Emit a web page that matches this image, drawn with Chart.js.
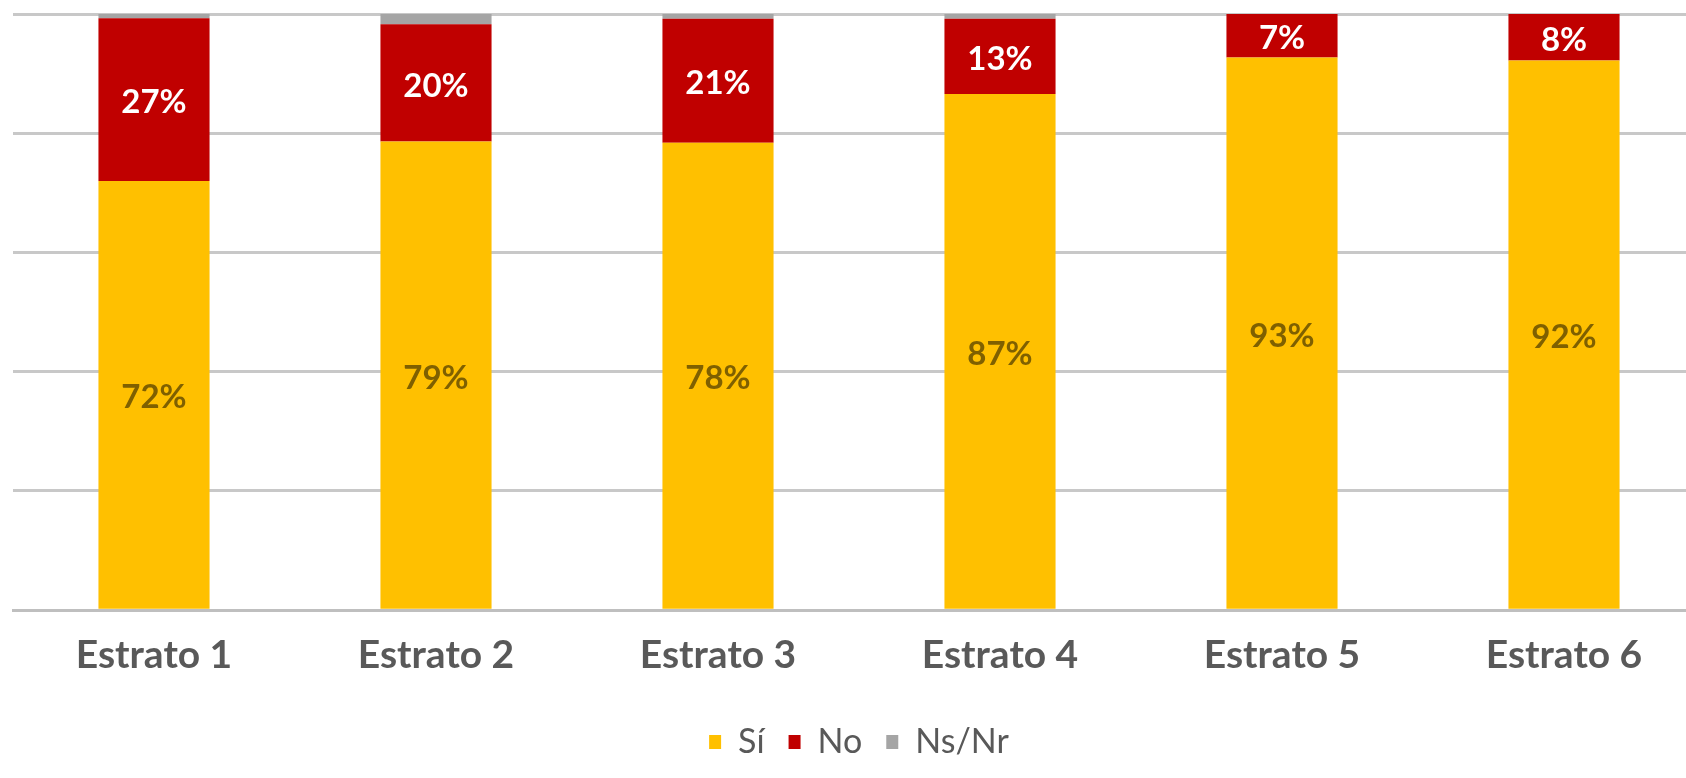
<!DOCTYPE html>
<html>
<head>
<meta charset="utf-8">
<script src="https://cdn.jsdelivr.net/npm/chart.js@4.4.1/dist/chart.umd.min.js"></script>
<style>
html,body{margin:0;padding:0;background:#fff;overflow:hidden;}
#wrap{position:absolute;left:0;top:0;width:1750px;height:778px;}
</style>
</head>
<body>
<div id="wrap"><canvas id="c" width="1750" height="778"></canvas></div>
<script>
const categories = ['Estrato 1', 'Estrato 2', 'Estrato 3', 'Estrato 4', 'Estrato 5', 'Estrato 6'];
const seriesNames = ['Sí', 'No', 'Ns/Nr'];
const si   = [72.0, 78.6, 78.4, 86.6, 92.7, 92.2];
const no   = [27.3, 19.7, 20.8, 12.6, 7.3, 7.8];
const nsnr = [0.7, 1.7, 0.8, 0.8, 0.0, 0.0];
const yTicks = [0, 20, 40, 60, 80, 100];

const labelPlugin = {
  id: 'segLabels',
  afterDatasetsDraw(chart) {
    const ctx = chart.ctx;
    const colors = ['#7F6000', '#FFFFFF'];
    [0, 1].forEach(di => {
      const meta = chart.getDatasetMeta(di);
      const data = chart.data.datasets[di].data;
      meta.data.forEach((el, i) => {
        const v = data[i];
        if (!v) return;
        const y = (el.y + el.base) / 2 + 3;
        ctx.save();
        ctx.font = 'bold 33px Lato';
        ctx.fillStyle = colors[di];
        ctx.textAlign = 'center';
        ctx.textBaseline = 'middle';
        ctx.fillText(Math.round(v) + '%', el.x, y);
        ctx.restore();
      });
    });
  }
};

new Chart(document.getElementById('c'), {
  type: 'bar',
  data: {
    labels: categories,
    datasets: [
      {label: seriesNames[0], data: si, backgroundColor: '#FFC000', borderWidth: 0},
      {label: seriesNames[1], data: no, backgroundColor: '#C00000', borderWidth: 0},
      {label: seriesNames[2], data: nsnr, backgroundColor: '#A5A5A5', borderWidth: 0}
    ]
  },
  options: {
    responsive: false,
    animation: false,
    devicePixelRatio: 1,
    layout: {padding: {left: 13, right: 45, top: 14, bottom: 9}},
    datasets: {bar: {categoryPercentage: 1.0, barPercentage: 0.394}},
    plugins: {
      tooltip: {enabled: false},
      legend: {
        position: 'bottom',
        labels: {
          font: {family: 'Lato', size: 34},
          color: '#595959',
          boxWidth: 12,
          boxHeight: 14,
          padding: 24
        }
      }
    },
    scales: {
      x: {
        stacked: true,
        grid: {display: false, drawTicks: false},
        border: {display: true, color: '#BFBFBF', width: 3},
        ticks: {font: {family: 'Lato', size: 39, weight: 'bold'}, color: '#595959', padding: 22}
      },
      y: {
        stacked: true,
        min: yTicks[0],
        max: yTicks[yTicks.length - 1],
        afterBuildTicks(scale) { scale.ticks = yTicks.map(v => ({value: v})); },
        ticks: {display: false},
        grid: {color: '#C8C8C8', lineWidth: 3, drawTicks: false},
        border: {display: false}
      }
    }
  },
  plugins: [labelPlugin]
});
</script>
</body>
</html>
